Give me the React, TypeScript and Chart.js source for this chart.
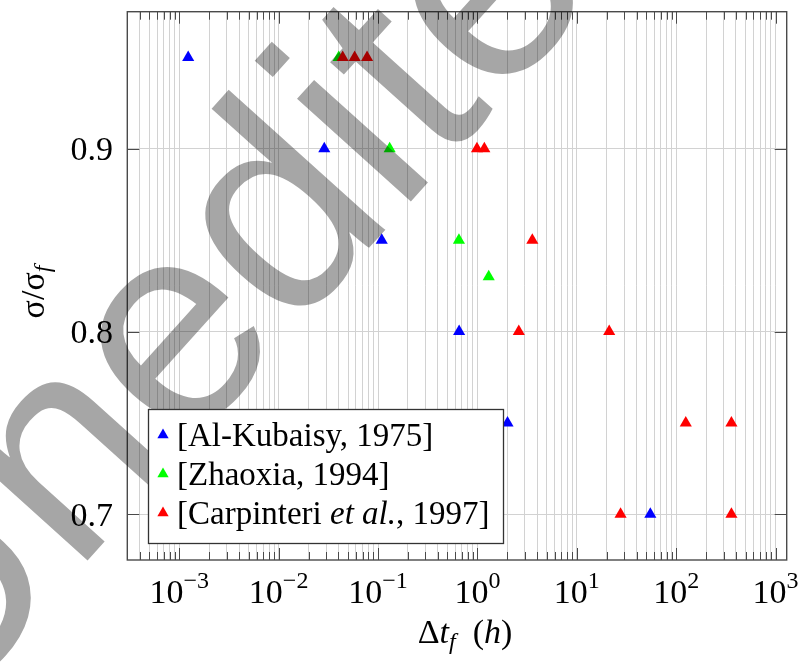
import { useEffect, useRef } from 'react';
import { Chart, registerables } from 'chart.js';

Chart.register(...registerables);

// ---------- data ----------
const SERIES_NAMES = ['[Al-Kubaisy, 1975]', '[Zhaoxia, 1994]', '[Carpinteri et al., 1997]'];
const SERIES_COLORS = ['#0000ff', '#00ff00', '#ff0000'];

const alKubaisyX = [1.23e-3, 0.0288, 0.109, 0.655, 2.01, 55];
const alKubaisyY = [0.95, 0.9, 0.85, 0.8, 0.75, 0.7];

const zhaoxiaX = [0.0402, 0.131, 0.652, 1.3];
const zhaoxiaY = [0.95, 0.9, 0.85, 0.83];

const carpinteriX = [0.0441, 0.0582, 0.0776, 0.99, 1.175, 3.57, 2.61, 21.2, 125, 360, 27.6, 360];
const carpinteriY = [0.95, 0.95, 0.95, 0.9, 0.9, 0.85, 0.8, 0.8, 0.75, 0.75, 0.7, 0.7];

const X_DECADES = [-3, -2, -1, 0, 1, 2, 3];
const X_MINOR_MULTIPLIERS = [2, 3, 4, 5, 6, 7, 8, 9];
const Y_TICKS = [0.7, 0.8, 0.9];
const Y_TICK_LABELS = ['0.7', '0.8', '0.9'];

const X_MIN = 3.455e-4;
const X_MAX = 1296;
const Y_MIN = 0.675;
const Y_MAX = 0.975;

const WATERMARK = 'Unedited';

// ---------- styling ----------
const SERIF = '"Liberation Serif", "Times New Roman", Times, serif';
const SANS = '"Liberation Sans", Arial, sans-serif';
const FRAME = '#4a4a4a';
const GRID = '#d2d2d2';

type Run = { text: string; font: string; dy?: number };

function drawRuns(ctx: CanvasRenderingContext2D, runs: Run[], x: number, y: number, align: 'left' | 'center' | 'right') {
  const widths = runs.map((r) => {
    ctx.font = r.font;
    return ctx.measureText(r.text).width;
  });
  const total = widths.reduce((a, b) => a + b, 0);
  let cx = align === 'left' ? x : align === 'center' ? x - total / 2 : x - total;
  ctx.textAlign = 'left';
  ctx.textBaseline = 'alphabetic';
  runs.forEach((r, i) => {
    ctx.font = r.font;
    ctx.fillText(r.text, cx, y + (r.dy || 0));
    cx += widths[i];
  });
}

function triangle(ctx: CanvasRenderingContext2D, x: number, y: number, r: number, color: string) {
  ctx.beginPath();
  ctx.moveTo(x, y - r);
  ctx.lineTo(x + r * Math.sin((2 * Math.PI) / 3), y + r / 2);
  ctx.lineTo(x - r * Math.sin((2 * Math.PI) / 3), y + r / 2);
  ctx.closePath();
  ctx.fillStyle = color;
  ctx.fill();
}

const overlayPlugin = {
  id: 'pgfOverlay',
  afterDraw(chart: any) {
    const ctx: CanvasRenderingContext2D = chart.ctx;
    const { left, right, top, bottom } = chart.chartArea;
    const xs = chart.scales.x;
    const ys = chart.scales.y;
    ctx.save();

    // inner tick marks
    ctx.strokeStyle = FRAME;
    ctx.lineWidth = 1;
    xs.ticks.forEach((t: any) => {
      const px = Math.round(xs.getPixelForValue(t.value)) + 0.5;
      if (px < left + 1 || px > right - 1) return;
      const major = X_DECADES.some((d) => Math.abs(Math.log10(t.value) - d) < 1e-6);
      const L = major ? 12 : 8;
      ctx.beginPath();
      ctx.moveTo(px, bottom);
      ctx.lineTo(px, bottom - L);
      ctx.moveTo(px, top);
      ctx.lineTo(px, top + L);
      ctx.stroke();
    });
    Y_TICKS.forEach((v) => {
      const py = Math.round(ys.getPixelForValue(v)) + 0.5;
      ctx.beginPath();
      ctx.moveTo(left, py);
      ctx.lineTo(left + 12, py);
      ctx.moveTo(right, py);
      ctx.lineTo(right - 12, py);
      ctx.stroke();
    });

    // frame
    ctx.lineWidth = 1.4;
    ctx.strokeStyle = FRAME;
    ctx.strokeRect(left, top, right - left, bottom - top);

    // watermark (multiplied over the plot)
    ctx.save();
    ctx.globalCompositeOperation = 'multiply';
    ctx.translate(-66, 731);
    ctx.rotate((-48 * Math.PI) / 180);
    ctx.font = `290px ${SANS}`;
    ctx.fillStyle = '#a6a6a6';
    ctx.textAlign = 'left';
    ctx.textBaseline = 'alphabetic';
    ctx.fillText(WATERMARK, 0, 0);
    ctx.restore();

    // legend
    const lx0 = 148.5, ly0 = 409.5, lx1 = 503.5, ly1 = 543.5;
    ctx.fillStyle = '#fff';
    ctx.fillRect(lx0, ly0, lx1 - lx0, ly1 - ly0);
    ctx.lineWidth = 1.3;
    ctx.strokeStyle = '#333';
    ctx.strokeRect(lx0, ly0, lx1 - lx0, ly1 - ly0);
    const baselines = [446, 485, 524];
    SERIES_NAMES.forEach((name, i) => {
      triangle(ctx, 163, baselines[i] - 11, 6.5, SERIES_COLORS[i]);
      ctx.fillStyle = '#000';
      let runs: Run[];
      if (name.includes('et al.')) {
        const [a, b] = name.split('et al.');
        runs = [
          { text: a, font: `33px ${SERIF}` },
          { text: 'et al.', font: `italic 33px ${SERIF}` },
          { text: b, font: `33px ${SERIF}` },
        ];
      } else {
        runs = [{ text: name, font: `33px ${SERIF}` }];
      }
      drawRuns(ctx, runs, 177, baselines[i], 'left');
    });

    // tick labels
    ctx.fillStyle = '#000';
    X_DECADES.forEach((d) => {
      const px = xs.getPixelForValue(Math.pow(10, d));
      const sup = d < 0 ? '\u2212' + Math.abs(d) : String(d);
      drawRuns(
        ctx,
        [
          { text: '10', font: `34px ${SERIF}` },
          { text: sup, font: `24px ${SERIF}`, dy: -15 },
        ],
        px,
        603,
        'center'
      );
    });
    Y_TICKS.forEach((v, i) => {
      const py = ys.getPixelForValue(v);
      drawRuns(ctx, [{ text: Y_TICK_LABELS[i], font: `34px ${SERIF}` }], 113, py + 11.5, 'right');
    });

    // axis titles
    drawRuns(
      ctx,
      [
        { text: '\u0394', font: `34px ${SERIF}` },
        { text: 't', font: `italic 34px ${SERIF}` },
        { text: 'f', font: `italic 24px ${SERIF}`, dy: 6 },
        { text: '  (', font: `34px ${SERIF}` },
        { text: 'h', font: `italic 34px ${SERIF}` },
        { text: ')', font: `34px ${SERIF}` },
      ],
      (left + right) / 2 + 8,
      643,
      'center'
    );
    ctx.save();
    ctx.translate(44, 292);
    ctx.rotate(-Math.PI / 2);
    drawRuns(
      ctx,
      [
        { text: '\u03c3/\u03c3', font: `34px ${SERIF}` },
        { text: 'f', font: `italic 24px ${SERIF}`, dy: 6 },
      ],
      0,
      0,
      'center'
    );
    ctx.restore();

    ctx.restore();
  },
};

function buildXTicks() {
  const out: { value: number }[] = [];
  for (let d = X_DECADES[0] - 1; d <= X_DECADES[X_DECADES.length - 1]; d++) {
    [1, ...X_MINOR_MULTIPLIERS].forEach((m) => {
      const v = m * Math.pow(10, d);
      if (v >= X_MIN && v <= X_MAX) out.push({ value: v });
    });
  }
  return out;
}

export default function App() {
  const ref = useRef<HTMLCanvasElement | null>(null);

  useEffect(() => {
    if (!ref.current) return;
    const mk = (xs: number[], ys: number[]) => xs.map((x, i) => ({ x, y: ys[i] }));
    const datasets = [
      { label: SERIES_NAMES[0], data: mk(alKubaisyX, alKubaisyY), order: 2 },
      { label: SERIES_NAMES[1], data: mk(zhaoxiaX, zhaoxiaY), order: 1 },
      { label: SERIES_NAMES[2], data: mk(carpinteriX, carpinteriY), order: 0 },
    ].map((d, i) => ({
      ...d,
      pointStyle: 'triangle' as const,
      pointRadius: 7,
      pointBorderWidth: 0,
      backgroundColor: SERIES_COLORS[i],
      borderColor: SERIES_COLORS[i],
      showLine: false,
    }));

    const chart = new Chart(ref.current, {
      type: 'scatter',
      data: { datasets },
      options: {
        responsive: false,
        animation: false,
        events: [],
        layout: { padding: { left: 127.3, top: 11.7, right: 799 - 786.7, bottom: 664 - 560 } },
        plugins: { legend: { display: false }, tooltip: { enabled: false } },
        scales: {
          x: {
            type: 'logarithmic',
            min: X_MIN,
            max: X_MAX,
            ticks: { display: false },
            border: { display: false },
            grid: { color: GRID, lineWidth: 1, drawTicks: false },
            afterBuildTicks: (scale: any) => {
              scale.ticks = buildXTicks();
            },
          },
          y: {
            type: 'linear',
            min: Y_MIN,
            max: Y_MAX,
            ticks: { display: false },
            border: { display: false },
            grid: { color: GRID, lineWidth: 1, drawTicks: false },
            afterBuildTicks: (scale: any) => {
              scale.ticks = Y_TICKS.map((v) => ({ value: v }));
            },
          },
        },
      },
      plugins: [overlayPlugin],
    });
    return () => chart.destroy();
  }, []);

  return (
    <div style={{ position: 'absolute', left: 0, top: 0, width: 799, height: 664, background: '#fff' }}>
      <canvas ref={ref} width={799} height={664} style={{ display: 'block', width: 799, height: 664 }} />
    </div>
  );
}
